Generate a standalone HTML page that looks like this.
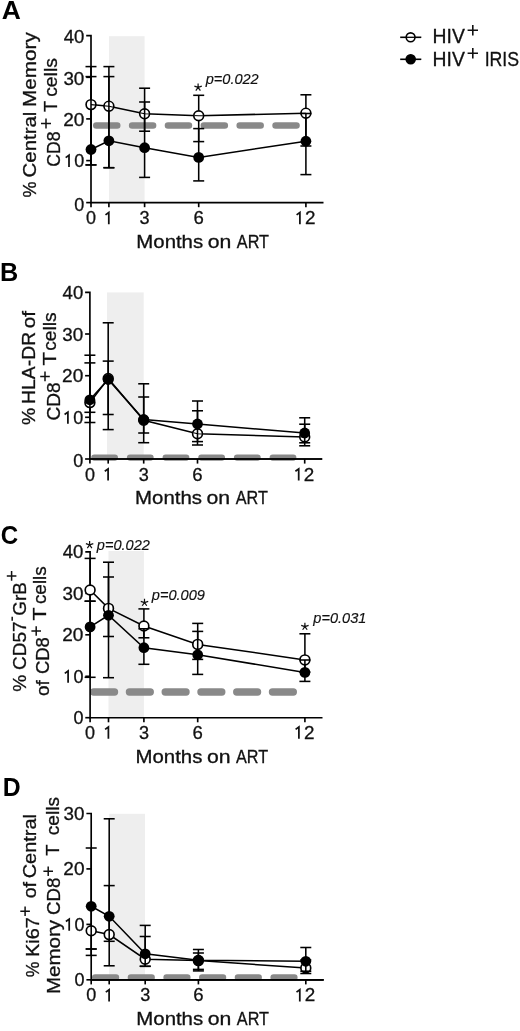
<!DOCTYPE html>
<html><head><meta charset="utf-8"><title>Figure</title>
<style>
html,body{margin:0;padding:0;background:#fff;}
svg{display:block;will-change:transform;filter:grayscale(1)}
text{font-family:"Liberation Sans", sans-serif;fill:#111;stroke:#111;stroke-width:0.3px;}
.t{font-size:17.8px;}
.b{font-weight:bold;fill:#000;stroke:none}
.i{font-style:italic;stroke-width:0.15px}
</style></head><body>
<svg width="520" height="1031" viewBox="0 0 520 1031">
<rect width="520" height="1031" fill="#fff"/>
<rect x="109.0" y="36.2" width="35.60" height="166.40" fill="#eeeeee"/>
<line x1="96.30" y1="125.5" x2="297.00" y2="125.5" stroke="#898989" stroke-width="6.6" stroke-linecap="round" stroke-dasharray="20.90 14.96"/>
<g stroke="#000" stroke-width="1.6500000000000001" fill="none" stroke-linecap="butt">
<path d="M86.2 35.6H91.0V202.6H323.5"/>
<path d="M86.2 77.3H91.0"/>
<path d="M86.2 118.9H91.0"/>
<path d="M86.2 160.6H91.0"/>
<path d="M86.2 202.6H91.0"/>
<path d="M91.0 202.6V207.2"/>
<path d="M108.9 202.6V207.2"/>
<path d="M144.6 202.6V207.2"/>
<path d="M198.7 202.6V207.2"/>
<path d="M305.9 202.6V207.2"/>
</g>
<text class="t" style="font-size:18.6px" transform="translate(63.68 43.20) scale(0.9985 1.0)">40</text>
<text class="t" style="font-size:18.6px" transform="translate(63.39 84.50) scale(1.0129 1.0)">30</text>
<text class="t" style="font-size:18.6px" transform="translate(63.15 125.90) scale(1.0253 1.0)">20</text>
<text class="t" style="font-size:18.6px" transform="translate(74.28 166.90) scale(0.9683 1.0)">0</text>
<path d="M65.70 157.60L69.00 155.20V166.90" stroke="#111" stroke-width="1.75" fill="none" stroke-linejoin="miter"/>
<text class="t" style="font-size:18.6px" transform="translate(74.28 211.20) scale(0.9683 1.0)">0</text>
<text class="t" style="font-size:18.6px" transform="translate(85.98 224.20) scale(0.9683 1.0)">0</text>
<path d="M105.50 214.90L108.80 212.50V224.20" stroke="#111" stroke-width="1.75" fill="none" stroke-linejoin="miter"/>
<text class="t" style="font-size:18.6px" transform="translate(139.62 224.20) scale(0.9734 1.0)">3</text>
<text class="t" style="font-size:18.6px" transform="translate(193.47 224.20) scale(0.9997 1.0)">6</text>
<text class="t" style="font-size:18.6px" transform="translate(304.95 224.20) scale(1.0162 1.0)">2</text>
<path d="M296.60 214.90L299.90 212.50V224.20" stroke="#111" stroke-width="1.75" fill="none" stroke-linejoin="miter"/>
<g stroke="#000" stroke-width="1.55" fill="none">
<path d="M91.0 66.6V164.9"/>
<path d="M85.5 66.6H96.5"/>
<path d="M85.5 164.9H96.5"/>
<path d="M108.9 66.6V167.7"/>
<path d="M103.4 66.6H114.4"/>
<path d="M103.4 167.7H114.4"/>
<path d="M144.6 88.2V131.2"/>
<path d="M139.1 88.2H150.1"/>
<path d="M139.1 131.2H150.1"/>
<path d="M198.7 95.3V141.6"/>
<path d="M193.2 95.3H204.2"/>
<path d="M193.2 141.6H204.2"/>
<path d="M305.9 94.8V146.0"/>
<path d="M300.4 94.8H311.4"/>
<path d="M300.4 146.0H311.4"/>
<polyline points="91.0,104.6 108.9,106.2 144.6,113.8 198.7,115.75 305.9,113.2"/>
<circle cx="91.0" cy="104.6" r="4.9" fill="#fff" stroke-width="1.65"/>
<circle cx="108.9" cy="106.2" r="4.9" fill="#fff" stroke-width="1.65"/>
<circle cx="144.6" cy="113.8" r="4.9" fill="#fff" stroke-width="1.65"/>
<circle cx="198.7" cy="115.75" r="4.9" fill="#fff" stroke-width="1.65"/>
<circle cx="305.9" cy="113.2" r="4.9" fill="#fff" stroke-width="1.65"/>
<clipPath id="cA"><circle cx="91.0" cy="104.6" r="4.300000000000001"/><circle cx="108.9" cy="106.2" r="4.300000000000001"/><circle cx="144.6" cy="113.8" r="4.300000000000001"/><circle cx="198.7" cy="115.75" r="4.300000000000001"/><circle cx="305.9" cy="113.2" r="4.300000000000001"/></clipPath>
<polyline points="91.0,104.6 108.9,106.2 144.6,113.8 198.7,115.75 305.9,113.2" stroke-width="1.1" clip-path="url(#cA)"/>
<path d="M91.0 76.6V164.9"/>
<path d="M85.5 76.6H96.5"/>
<path d="M85.5 164.9H96.5"/>
<path d="M108.9 76.6V167.7"/>
<path d="M103.4 76.6H114.4"/>
<path d="M103.4 167.7H114.4"/>
<path d="M144.6 102.0V177.4"/>
<path d="M139.1 102.0H150.1"/>
<path d="M139.1 177.4H150.1"/>
<path d="M198.7 128.6V180.9"/>
<path d="M193.2 128.6H204.2"/>
<path d="M193.2 180.9H204.2"/>
<path d="M305.9 113.5V174.6"/>
<path d="M300.4 113.5H311.4"/>
<path d="M300.4 174.6H311.4"/>
<polyline points="91.0,149.5 108.9,140.8 144.6,147.7 198.7,157.4 305.9,141.2"/>
</g>
<circle cx="91.0" cy="149.5" r="5.4" fill="#000"/>
<circle cx="108.9" cy="140.8" r="5.4" fill="#000"/>
<circle cx="144.6" cy="147.7" r="5.4" fill="#000"/>
<circle cx="198.7" cy="157.4" r="5.4" fill="#000"/>
<circle cx="305.9" cy="141.2" r="5.4" fill="#000"/>
<text class="t" style="font-size:17.8px" transform="translate(136.32 247.90) scale(1.1458 1.0)">Months</text>
<text class="t" style="font-size:17.8px" transform="translate(207.70 247.90) scale(1.1936 1.0)">on</text>
<text class="t" style="font-size:17.8px" transform="translate(236.86 247.90) scale(0.9109 1.0)">ART</text>
<rect x="107.0" y="292.4" width="36.70" height="166.60" fill="#eeeeee"/>
<line x1="94.35" y1="457.6" x2="293.75" y2="457.6" stroke="#898989" stroke-width="6.3" stroke-linecap="round" stroke-dasharray="20.50 15.18"/>
<g stroke="#000" stroke-width="1.6500000000000001" fill="none" stroke-linecap="butt">
<path d="M85.10000000000001 292.4H89.9V459.0H322.2"/>
<path d="M85.10000000000001 334.0H89.9"/>
<path d="M85.10000000000001 375.7H89.9"/>
<path d="M85.10000000000001 417.3H89.9"/>
<path d="M85.10000000000001 459.0H89.9"/>
<path d="M89.9 459.0V463.6"/>
<path d="M108.2 459.0V463.6"/>
<path d="M143.7 459.0V463.6"/>
<path d="M197.5 459.0V463.6"/>
<path d="M304.7 459.0V463.6"/>
</g>
<text class="t" style="font-size:18.6px" transform="translate(62.58 299.30) scale(0.9985 1.0)">40</text>
<text class="t" style="font-size:18.6px" transform="translate(62.29 340.80) scale(1.0129 1.0)">30</text>
<text class="t" style="font-size:18.6px" transform="translate(62.05 382.20) scale(1.0253 1.0)">20</text>
<text class="t" style="font-size:18.6px" transform="translate(73.18 423.80) scale(0.9683 1.0)">0</text>
<path d="M64.60 414.50L67.90 412.10V423.80" stroke="#111" stroke-width="1.75" fill="none" stroke-linejoin="miter"/>
<text class="t" style="font-size:18.6px" transform="translate(73.18 466.60) scale(0.9683 1.0)">0</text>
<text class="t" style="font-size:18.6px" transform="translate(84.88 480.60) scale(0.9683 1.0)">0</text>
<path d="M104.80 471.30L108.10 468.90V480.60" stroke="#111" stroke-width="1.75" fill="none" stroke-linejoin="miter"/>
<text class="t" style="font-size:18.6px" transform="translate(138.72 480.60) scale(0.9734 1.0)">3</text>
<text class="t" style="font-size:18.6px" transform="translate(192.27 480.60) scale(0.9997 1.0)">6</text>
<text class="t" style="font-size:18.6px" transform="translate(303.75 480.60) scale(1.0162 1.0)">2</text>
<path d="M295.40 471.30L298.70 468.90V480.60" stroke="#111" stroke-width="1.75" fill="none" stroke-linejoin="miter"/>
<g stroke="#000" stroke-width="1.55" fill="none">
<path d="M89.9 355.2V412.3"/>
<path d="M84.4 355.2H95.4"/>
<path d="M84.4 412.3H95.4"/>
<path d="M108.2 361.1V414.5"/>
<path d="M102.7 361.1H113.7"/>
<path d="M102.7 414.5H113.7"/>
<path d="M143.7 397.0V442.7"/>
<path d="M138.2 397.0H149.2"/>
<path d="M138.2 442.7H149.2"/>
<path d="M197.5 410.8V445.0"/>
<path d="M192.0 410.8H203.0"/>
<path d="M192.0 445.0H203.0"/>
<path d="M304.7 424.2V445.8"/>
<path d="M299.2 424.2H310.2"/>
<path d="M299.2 445.8H310.2"/>
<polyline points="89.9,402.6 108.2,378.5 143.7,420.3 197.5,433.8 304.7,437.0"/>
<circle cx="89.9" cy="402.6" r="4.9" fill="#fff" stroke-width="1.65"/>
<circle cx="108.2" cy="378.5" r="4.9" fill="#fff" stroke-width="1.65"/>
<circle cx="143.7" cy="420.3" r="4.9" fill="#fff" stroke-width="1.65"/>
<circle cx="197.5" cy="433.8" r="4.9" fill="#fff" stroke-width="1.65"/>
<circle cx="304.7" cy="437.0" r="4.9" fill="#fff" stroke-width="1.65"/>
<clipPath id="cB"><circle cx="89.9" cy="402.6" r="4.300000000000001"/><circle cx="108.2" cy="378.5" r="4.300000000000001"/><circle cx="143.7" cy="420.3" r="4.300000000000001"/><circle cx="197.5" cy="433.8" r="4.300000000000001"/><circle cx="304.7" cy="437.0" r="4.300000000000001"/></clipPath>
<polyline points="89.9,402.6 108.2,378.5 143.7,420.3 197.5,433.8 304.7,437.0" stroke-width="1.1" clip-path="url(#cB)"/>
<path d="M89.9 362.9V422.5"/>
<path d="M84.4 362.9H95.4"/>
<path d="M84.4 422.5H95.4"/>
<path d="M108.2 322.8V429.6"/>
<path d="M102.7 322.8H113.7"/>
<path d="M102.7 429.6H113.7"/>
<path d="M143.7 383.8V433.0"/>
<path d="M138.2 383.8H149.2"/>
<path d="M138.2 433.0H149.2"/>
<path d="M197.5 401.0V441.6"/>
<path d="M192.0 401.0H203.0"/>
<path d="M192.0 441.6H203.0"/>
<path d="M304.7 417.8V442.8"/>
<path d="M299.2 417.8H310.2"/>
<path d="M299.2 442.8H310.2"/>
<polyline points="89.9,399.8 108.2,379.5 143.7,419.5 197.5,424.0 304.7,433.0"/>
</g>
<circle cx="89.9" cy="399.8" r="5.4" fill="#000"/>
<circle cx="108.2" cy="379.5" r="5.4" fill="#000"/>
<circle cx="143.7" cy="419.5" r="5.4" fill="#000"/>
<circle cx="197.5" cy="424.0" r="5.4" fill="#000"/>
<circle cx="304.7" cy="433.0" r="5.4" fill="#000"/>
<path d="M89.9 459.0H322.2" stroke="#000" stroke-width="1.6500000000000001"/>
<text class="t" style="font-size:17.8px" transform="translate(135.12 504.30) scale(1.1458 1.0)">Months</text>
<text class="t" style="font-size:17.8px" transform="translate(206.50 504.30) scale(1.1936 1.0)">on</text>
<text class="t" style="font-size:17.8px" transform="translate(235.66 504.30) scale(0.9109 1.0)">ART</text>
<rect x="108.5" y="551.0" width="35.40" height="166.70" fill="#eeeeee"/>
<line x1="93.70" y1="692.0" x2="293.80" y2="692.0" stroke="#898989" stroke-width="7.4" stroke-linecap="round" stroke-dasharray="20.80 14.96"/>
<g stroke="#000" stroke-width="1.6500000000000001" fill="none" stroke-linecap="butt">
<path d="M85.3 551.9H90.1V717.7H322.5"/>
<path d="M85.3 593.4H90.1"/>
<path d="M85.3 634.8H90.1"/>
<path d="M85.3 676.3H90.1"/>
<path d="M85.3 717.7H90.1"/>
<path d="M90.1 717.7V722.3000000000001"/>
<path d="M108.5 717.7V722.3000000000001"/>
<path d="M143.9 717.7V722.3000000000001"/>
<path d="M197.7 717.7V722.3000000000001"/>
<path d="M304.9 717.7V722.3000000000001"/>
</g>
<text class="t" style="font-size:18.6px" transform="translate(62.78 558.30) scale(0.9985 1.0)">40</text>
<text class="t" style="font-size:18.6px" transform="translate(62.49 599.80) scale(1.0129 1.0)">30</text>
<text class="t" style="font-size:18.6px" transform="translate(62.25 641.20) scale(1.0253 1.0)">20</text>
<text class="t" style="font-size:18.6px" transform="translate(73.38 682.70) scale(0.9683 1.0)">0</text>
<path d="M64.80 673.40L68.10 671.00V682.70" stroke="#111" stroke-width="1.75" fill="none" stroke-linejoin="miter"/>
<text class="t" style="font-size:18.6px" transform="translate(73.38 724.10) scale(0.9683 1.0)">0</text>
<text class="t" style="font-size:18.6px" transform="translate(85.08 738.70) scale(0.9683 1.0)">0</text>
<path d="M105.10 729.40L108.40 727.00V738.70" stroke="#111" stroke-width="1.75" fill="none" stroke-linejoin="miter"/>
<text class="t" style="font-size:18.6px" transform="translate(138.92 738.70) scale(0.9734 1.0)">3</text>
<text class="t" style="font-size:18.6px" transform="translate(192.47 738.70) scale(0.9997 1.0)">6</text>
<text class="t" style="font-size:18.6px" transform="translate(303.95 738.70) scale(1.0162 1.0)">2</text>
<path d="M295.60 729.40L298.90 727.00V738.70" stroke="#111" stroke-width="1.75" fill="none" stroke-linejoin="miter"/>
<g stroke="#000" stroke-width="1.55" fill="none">
<path d="M90.1 558.4V601.2"/>
<path d="M84.6 558.4H95.6"/>
<path d="M84.6 601.2H95.6"/>
<path d="M108.5 562.2V636.5"/>
<path d="M103.0 562.2H114.0"/>
<path d="M103.0 636.5H114.0"/>
<path d="M143.9 608.9V637.8"/>
<path d="M138.4 608.9H149.4"/>
<path d="M138.4 637.8H149.4"/>
<path d="M197.7 623.4V659.4"/>
<path d="M192.2 623.4H203.2"/>
<path d="M192.2 659.4H203.2"/>
<path d="M304.9 633.8V672.0"/>
<path d="M299.4 633.8H310.4"/>
<path d="M299.4 672.0H310.4"/>
<polyline points="90.1,590.0 108.5,608.4 143.9,626.0 197.7,644.4 304.9,659.9"/>
<circle cx="90.1" cy="590.0" r="4.9" fill="#fff" stroke-width="1.65"/>
<circle cx="108.5" cy="608.4" r="4.9" fill="#fff" stroke-width="1.65"/>
<circle cx="143.9" cy="626.0" r="4.9" fill="#fff" stroke-width="1.65"/>
<circle cx="197.7" cy="644.4" r="4.9" fill="#fff" stroke-width="1.65"/>
<circle cx="304.9" cy="659.9" r="4.9" fill="#fff" stroke-width="1.65"/>
<path d="M90.1 601.2V677.3"/>
<path d="M84.6 601.2H95.6"/>
<path d="M84.6 677.3H95.6"/>
<path d="M108.5 577.0V677.7"/>
<path d="M103.0 577.0H114.0"/>
<path d="M103.0 677.7H114.0"/>
<path d="M143.9 628.8V664.3"/>
<path d="M138.4 628.8H149.4"/>
<path d="M138.4 664.3H149.4"/>
<path d="M197.7 631.4V674.4"/>
<path d="M192.2 631.4H203.2"/>
<path d="M192.2 674.4H203.2"/>
<path d="M304.9 660.0V681.4"/>
<path d="M299.4 660.0H310.4"/>
<path d="M299.4 681.4H310.4"/>
<polyline points="90.1,626.9 108.5,615.3 143.9,647.7 197.7,654.8 304.9,672.4"/>
</g>
<circle cx="90.1" cy="626.9" r="5.4" fill="#000"/>
<circle cx="108.5" cy="615.3" r="5.4" fill="#000"/>
<circle cx="143.9" cy="647.7" r="5.4" fill="#000"/>
<circle cx="197.7" cy="654.8" r="5.4" fill="#000"/>
<circle cx="304.9" cy="672.4" r="5.4" fill="#000"/>
<text class="t" style="font-size:17.8px" transform="translate(135.52 763.00) scale(1.1458 1.0)">Months</text>
<text class="t" style="font-size:17.8px" transform="translate(206.90 763.00) scale(1.1936 1.0)">on</text>
<text class="t" style="font-size:17.8px" transform="translate(236.06 763.00) scale(0.9109 1.0)">ART</text>
<rect x="109.2" y="813.8" width="35.80" height="166.00" fill="#eeeeee"/>
<line x1="95.20" y1="977.4" x2="294.90" y2="977.4" stroke="#898989" stroke-width="6.4" stroke-linecap="round" stroke-dasharray="20.80 14.88"/>
<g stroke="#000" stroke-width="1.6500000000000001" fill="none" stroke-linecap="butt">
<path d="M86.4 813.5H91.2V979.8H323.7"/>
<path d="M86.4 868.9H91.2"/>
<path d="M86.4 924.4H91.2"/>
<path d="M86.4 979.8H91.2"/>
<path d="M91.2 979.8V984.4"/>
<path d="M109.2 979.8V984.4"/>
<path d="M145.2 979.8V984.4"/>
<path d="M198.4 979.8V984.4"/>
<path d="M305.8 979.8V984.4"/>
</g>
<text class="t" style="font-size:18.6px" transform="translate(63.59 819.90) scale(1.0129 1.0)">30</text>
<text class="t" style="font-size:18.6px" transform="translate(63.35 875.30) scale(1.0253 1.0)">20</text>
<text class="t" style="font-size:18.6px" transform="translate(74.48 930.80) scale(0.9683 1.0)">0</text>
<path d="M65.90 921.50L69.20 919.10V930.80" stroke="#111" stroke-width="1.75" fill="none" stroke-linejoin="miter"/>
<text class="t" style="font-size:18.6px" transform="translate(74.48 986.20) scale(0.9683 1.0)">0</text>
<text class="t" style="font-size:18.6px" transform="translate(86.18 1001.40) scale(0.9683 1.0)">0</text>
<path d="M105.80 992.10L109.10 989.70V1001.40" stroke="#111" stroke-width="1.75" fill="none" stroke-linejoin="miter"/>
<text class="t" style="font-size:18.6px" transform="translate(140.22 1001.40) scale(0.9734 1.0)">3</text>
<text class="t" style="font-size:18.6px" transform="translate(193.17 1001.40) scale(0.9997 1.0)">6</text>
<text class="t" style="font-size:18.6px" transform="translate(304.85 1001.40) scale(1.0162 1.0)">2</text>
<path d="M296.50 992.10L299.80 989.70V1001.40" stroke="#111" stroke-width="1.75" fill="none" stroke-linejoin="miter"/>
<g stroke="#000" stroke-width="1.55" fill="none">
<path d="M91.2 949.0V955.4"/>
<path d="M85.7 949.0H96.7"/>
<path d="M85.7 955.4H96.7"/>
<path d="M109.2 885.6V941.3"/>
<path d="M103.7 885.6H114.7"/>
<path d="M103.7 941.3H114.7"/>
<path d="M145.2 936.5V966.3"/>
<path d="M139.7 936.5H150.7"/>
<path d="M139.7 966.3H150.7"/>
<path d="M198.4 953.0V969.4"/>
<path d="M192.9 953.0H203.9"/>
<path d="M192.9 969.4H203.9"/>
<path d="M305.8 960.0V973.5"/>
<path d="M300.3 960.0H311.3"/>
<path d="M300.3 973.5H311.3"/>
<polyline points="91.2,930.8 109.2,934.6 145.2,959.2 198.4,960.6 305.8,968.0"/>
<circle cx="91.2" cy="930.8" r="4.9" fill="#fff" stroke-width="1.65"/>
<circle cx="109.2" cy="934.6" r="4.9" fill="#fff" stroke-width="1.65"/>
<circle cx="145.2" cy="959.2" r="4.9" fill="#fff" stroke-width="1.65"/>
<circle cx="198.4" cy="960.6" r="4.9" fill="#fff" stroke-width="1.65"/>
<circle cx="305.8" cy="968.0" r="4.9" fill="#fff" stroke-width="1.65"/>
<path d="M91.2 848.0V949.0"/>
<path d="M85.7 848.0H96.7"/>
<path d="M85.7 949.0H96.7"/>
<path d="M109.2 818.8V965.8"/>
<path d="M103.7 818.8H114.7"/>
<path d="M103.7 965.8H114.7"/>
<path d="M145.2 925.4V966.3"/>
<path d="M139.7 925.4H150.7"/>
<path d="M139.7 966.3H150.7"/>
<path d="M198.4 949.5V970.9"/>
<path d="M192.9 949.5H203.9"/>
<path d="M192.9 970.9H203.9"/>
<path d="M305.8 947.5V971.2"/>
<path d="M300.3 947.5H311.3"/>
<path d="M300.3 971.2H311.3"/>
<polyline points="91.2,906.3 109.2,916.3 145.2,953.8 198.4,960.3 305.8,961.3"/>
</g>
<circle cx="91.2" cy="906.3" r="5.4" fill="#000"/>
<circle cx="109.2" cy="916.3" r="5.4" fill="#000"/>
<circle cx="145.2" cy="953.8" r="5.4" fill="#000"/>
<circle cx="198.4" cy="960.3" r="5.4" fill="#000"/>
<circle cx="305.8" cy="961.3" r="5.4" fill="#000"/>
<path d="M91.2 979.8H323.7" stroke="#000" stroke-width="1.6500000000000001"/>
<text class="t" style="font-size:17.8px" transform="translate(136.32 1025.10) scale(1.1458 1.0)">Months</text>
<text class="t" style="font-size:17.8px" transform="translate(207.70 1025.10) scale(1.1936 1.0)">on</text>
<text class="t" style="font-size:17.8px" transform="translate(236.86 1025.10) scale(0.9109 1.0)">ART</text>
<text class="b" style="font-size:25.6px" transform="translate(1.64 18.85) scale(1.0319 1.0)">A</text>
<text class="b" style="font-size:25.6px" transform="translate(-0.00 280.70) scale(0.9862 1.0)">B</text>
<text class="b" style="font-size:25.6px" transform="translate(0.74 543.80) scale(0.9423 1.0)">C</text>
<text class="b" style="font-size:25.6px" transform="translate(2.72 795.80) scale(0.9694 1.0)">D</text>
<text class="t" style="font-size:17.8px" transform="translate(35.90 197.53) rotate(-90) scale(1.0102 1.0)">%</text>
<text class="t" style="font-size:17.8px" transform="translate(35.90 177.42) rotate(-90) scale(1.1462 1.0)">Central</text>
<text class="t" style="font-size:17.8px" transform="translate(35.90 107.11) rotate(-90) scale(1.1658 1.0)">Memory</text>
<text class="t" style="font-size:17.8px" transform="translate(59.60 166.68) rotate(-90) scale(0.9896 1.0)">CD8</text>
<path d="M41.00 123.50H51.00M46.00 118.50V128.50" stroke="#111" stroke-width="1.5" fill="none"/>
<text class="t" style="font-size:17.8px" transform="translate(57.00 112.01) rotate(-90) scale(1.0242 1.0)">T</text>
<text class="t" style="font-size:17.8px" transform="translate(57.00 96.82) rotate(-90) scale(1.0871 1.0)">cells</text>
<text class="t" style="font-size:17.8px" transform="translate(35.10 425.08) rotate(-90) scale(1.0858 1.0)">%</text>
<text class="t" style="font-size:17.8px" transform="translate(35.10 403.90) rotate(-90) scale(1.0884 1.0)">HLA-DR</text>
<text class="t" style="font-size:17.8px" transform="translate(35.10 328.27) rotate(-90) scale(1.1555 1.0)">of</text>
<text class="t" style="font-size:17.8px" transform="translate(59.50 420.56) rotate(-90) scale(1.0750 1.0)">CD8</text>
<path d="M40.20 376.40H49.80M45.00 371.60V381.20" stroke="#111" stroke-width="1.5" fill="none"/>
<text class="t" style="font-size:17.8px" transform="translate(56.30 365.50) rotate(-90) scale(1.2529 1.0)">T</text>
<text class="t" style="font-size:17.8px" transform="translate(56.30 350.82) rotate(-90) scale(1.0812 1.0)">cells</text>
<text class="t" style="font-size:17.8px" transform="translate(26.20 691.67) rotate(-90) scale(1.0721 1.0)">%</text>
<text class="t" style="font-size:17.8px" transform="translate(26.20 669.95) rotate(-90) scale(1.0664 1.0)">CD57</text>
<path d="M12.20 616.80V620.80" stroke="#111" stroke-width="1.5" fill="none"/>
<text class="t" style="font-size:17.8px" transform="translate(25.80 615.75) rotate(-90) scale(1.0632 1.0)">GrB</text>
<path d="M6.80 575.90H16.40M11.60 571.10V580.70" stroke="#111" stroke-width="1.5" fill="none"/>
<text class="t" style="font-size:17.8px" transform="translate(49.20 696.00) rotate(-90) scale(1.0633 1.0)">of</text>
<text class="t" style="font-size:17.8px" transform="translate(49.20 674.02) rotate(-90) scale(1.0367 1.0)">CD8</text>
<path d="M31.40 631.00H41.00M36.20 626.20V635.80" stroke="#111" stroke-width="1.5" fill="none"/>
<text class="t" style="font-size:17.8px" transform="translate(46.00 620.48) rotate(-90) scale(1.2031 1.0)">T</text>
<text class="t" style="font-size:17.8px" transform="translate(46.00 604.10) rotate(-90) scale(1.0637 1.0)">cells</text>
<text class="t" style="font-size:17.8px" transform="translate(38.60 977.32) rotate(-90) scale(0.9896 1.0)">%</text>
<text class="t" style="font-size:17.8px" transform="translate(38.60 957.04) rotate(-90) scale(1.1191 1.0)">Ki67</text>
<path d="M20.30 911.20H29.90M25.10 906.40V916.00" stroke="#111" stroke-width="1.5" fill="none"/>
<text class="t" style="font-size:17.8px" transform="translate(36.30 898.34) rotate(-90) scale(1.1059 1.0)">of</text>
<text class="t" style="font-size:17.8px" transform="translate(36.30 878.30) rotate(-90) scale(1.1209 1.0)">Central</text>
<text class="t" style="font-size:17.8px" transform="translate(59.60 993.99) rotate(-90) scale(1.1515 1.0)">Memory</text>
<text class="t" style="font-size:17.8px" transform="translate(59.60 914.94) rotate(-90) scale(1.0514 1.0)">CD8</text>
<path d="M43.40 871.20H53.00M48.20 866.40V876.00" stroke="#111" stroke-width="1.5" fill="none"/>
<text class="t" style="font-size:17.8px" transform="translate(59.40 855.81) rotate(-90) scale(1.0341 1.0)">T</text>
<text class="t" style="font-size:17.8px" transform="translate(59.40 835.21) rotate(-90) scale(1.0725 1.0)">cells</text>
<g stroke="#000" stroke-width="1.6"><path d="M400.2 37.3H421.3"/><circle cx="410.6" cy="37.3" r="4.4" fill="#fff"/><path d="M406.4 37.3H414.8" stroke-width="1.3"/><path d="M400.2 59.3H421.3"/><circle cx="410.7" cy="59.3" r="4.5" fill="#000"/></g>
<text class="t" style="font-size:20.6px" transform="translate(432.60 42.60) scale(0.9401 1.0)">HIV</text>
<path d="M467.60 30.20H478.00M472.80 25.00V35.40" stroke="#111" stroke-width="1.6" fill="none"/>
<text class="t" style="font-size:20.6px" transform="translate(432.60 65.70) scale(0.9401 1.0)">HIV</text>
<path d="M467.60 53.20H478.00M472.80 48.00V58.40" stroke="#111" stroke-width="1.6" fill="none"/>
<text class="t" style="font-size:20.6px" transform="translate(484.66 65.70) scale(0.8606 1.0)">IRIS</text>
<path d="M198.10 87.40L198.10 83.50M198.10 87.40L201.81 86.19M198.10 87.40L200.39 90.56M198.10 87.40L195.81 90.56M198.10 87.40L194.39 86.19" stroke="#111" stroke-width="1.2" fill="none" stroke-linecap="butt"/>
<text class="i" style="font-size:14.2px" transform="translate(205.76 83.50) scale(1.0250 1.0)">p=0.022</text>
<path d="M89.60 544.90L89.60 541.00M89.60 544.90L93.31 543.69M89.60 544.90L91.89 548.06M89.60 544.90L87.31 548.06M89.60 544.90L85.89 543.69" stroke="#111" stroke-width="1.2" fill="none" stroke-linecap="butt"/>
<text class="i" style="font-size:14.2px" transform="translate(96.86 550.00) scale(1.0250 1.0)">p=0.022</text>
<path d="M144.50 602.60L144.50 598.70M144.50 602.60L148.21 601.39M144.50 602.60L146.79 605.76M144.50 602.60L142.21 605.76M144.50 602.60L140.79 601.39" stroke="#111" stroke-width="1.2" fill="none" stroke-linecap="butt"/>
<text class="i" style="font-size:14.2px" transform="translate(151.86 599.60) scale(1.0271 1.0)">p=0.009</text>
<path d="M304.90 626.60L304.90 622.70M304.90 626.60L308.61 625.39M304.90 626.60L307.19 629.76M304.90 626.60L302.61 629.76M304.90 626.60L301.19 625.39" stroke="#111" stroke-width="1.2" fill="none" stroke-linecap="butt"/>
<text class="i" style="font-size:14.2px" transform="translate(313.36 622.80) scale(1.0254 1.0)">p=0.031</text>
</svg></body></html>
